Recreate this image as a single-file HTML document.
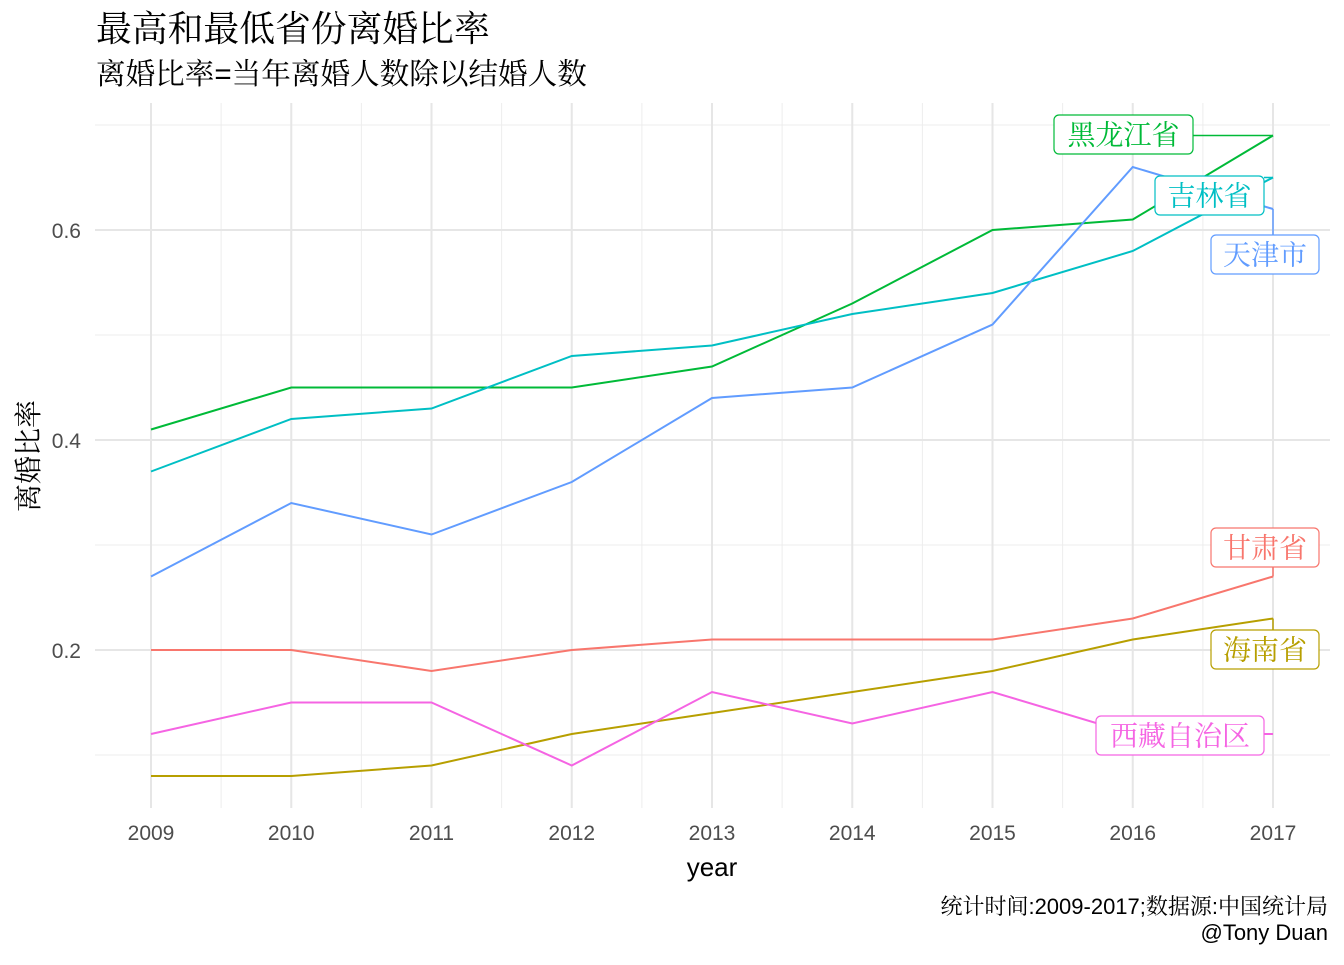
<!DOCTYPE html>
<html><head><meta charset="utf-8">
<style>
html,body{margin:0;padding:0;background:#fff;}
svg text{font-family:"Liberation Sans","Noto Sans CJK SC",sans-serif;}
.cjk{font-family:"Liberation Serif","Noto Serif CJK SC",serif !important;}
.sans{font-family:"Liberation Sans","Noto Serif CJK SC",sans-serif !important;}
</style></head>
<body>
<svg id="chart" width="1344" height="960" xmlns="http://www.w3.org/2000/svg">
<text class="cjk" x="96" y="41" font-size="35.8" fill="#000">最高和最低省份离婚比率</text>
<text class="sans" x="96" y="84" font-size="29.6" fill="#000">离婚比率=当年离婚人数除以结婚人数</text>
<g id="grid"></g>
<g id="series"></g>
<g id="labels"></g>
<g id="axes"></g>
<text class="cjk" transform="translate(38,456) rotate(-90)" text-anchor="middle" font-size="28" fill="#000">离婚比率</text>
<text x="712" y="876" text-anchor="middle" font-size="26" fill="#000">year</text>
<text class="sans" x="1328" y="914" text-anchor="end" font-size="22" fill="#000">统计时间:2009-2017;数据源:中国统计局</text>
<text x="1328" y="940" text-anchor="end" font-size="22" fill="#000">@Tony Duan</text>
</svg>
<script>
const years = [2009,2010,2011,2012,2013,2014,2015,2016,2017];
const yTicks = [0.2,0.4,0.6];
const yMinor = [0.1,0.3,0.5,0.7];
const names = ["甘肃省","海南省","黑龙江省","吉林省","天津市","西藏自治区"];
const colors = ["#F8766D","#B79F00","#00BA38","#00BFC4","#619CFF","#F564E3"];
const gansu = [0.20,0.20,0.18,0.20,0.21,0.21,0.21,0.23,0.27];
const hainan = [0.08,0.08,0.09,0.12,0.14,0.16,0.18,0.21,0.23];
const heilongjiang = [0.41,0.45,0.45,0.45,0.47,0.53,0.60,0.61,0.69];
const jilin = [0.37,0.42,0.43,0.48,0.49,0.52,0.54,0.58,0.65];
const tianjin = [0.27,0.34,0.31,0.36,0.44,0.45,0.51,0.66,0.62];
const xizang = [0.12,0.15,0.15,0.09,0.16,0.13,0.16,0.12,0.12];
const seriesVals = [gansu,hainan,heilongjiang,jilin,tianjin,xizang];

const NS="http://www.w3.org/2000/svg";
const X = y => 151 + (y-2009)*140.25;
const Y = v => 650 - (v-0.2)*1050;
function mk(tag, attrs, parent){const e=document.createElementNS(NS,tag);for(const k in attrs)e.setAttribute(k,attrs[k]);parent.appendChild(e);return e;}
const grid=document.getElementById('grid'), ser=document.getElementById('series'), lab=document.getElementById('labels'), axes=document.getElementById('axes');
const L=95,R=1330,T=103,B=808;
yMinor.forEach(v=>{const l=mk('line',{x1:L,x2:R,y1:Y(v),y2:Y(v),stroke:'#ededed','stroke-width':1},grid);

});
for(let i=0;i<years.length-1;i++){const xm=(X(years[i])+X(years[i+1]))/2;const l=mk('line',{x1:xm,x2:xm,y1:T,y2:B,stroke:'#ededed','stroke-width':1},grid);

}
yTicks.forEach(v=>{const l=mk('line',{x1:L,x2:R,y1:Y(v),y2:Y(v),stroke:'#e6e6e6','stroke-width':2},grid);


const t=mk('text',{x:81,y:Y(v)+8,'text-anchor':'end','font-size':21,fill:'#4d4d4d'},axes);t.textContent=v.toFixed(1);

});
years.forEach(yr=>{const l=mk('line',{x1:X(yr),x2:X(yr),y1:T,y2:B,stroke:'#e6e6e6','stroke-width':2},grid);


const t=mk('text',{x:X(yr),y:840,'text-anchor':'middle','font-size':21,fill:'#4d4d4d'},axes);t.textContent=yr;

});
seriesVals.forEach((vals,i)=>{const p=mk('polyline',{points:vals.map((v,j)=>X(years[j])+','+Y(v)).join(' '),fill:'none',stroke:colors[i],'stroke-width':2},ser);

});
const boxes=[[0,1211,528,108],[1,1211,630,108],[2,1054,115,139],[3,1155,176,109],[4,1211,235,108],[5,1096,716,168]];
boxes.forEach(([i,bx,by,w])=>{const h=39;const ex=X(2017),ey=Y(seriesVals[i][8]);
const cy=by+h/2;const nx=Math.max(bx,Math.min(bx+w,ex)),ny=Math.max(by,Math.min(by+h,ey));
if(Math.hypot(nx-ex,ny-ey)>6){const c=mk('line',{x1:ex,y1:ey,x2:(ex>bx+w?bx+w:nx),y2:(ey>=by&&ey<=by+h?ey:ny),stroke:colors[i],'stroke-width':1.5},lab);

}
const r=mk('rect',{x:bx,y:by,width:w,height:h,rx:5,fill:'#fff',stroke:colors[i],'stroke-width':1.2},lab);


const t=mk('text',{x:bx+w/2,y:cy+10,'text-anchor':'middle','font-size':28,fill:colors[i],class:'cjk'},lab);t.textContent=names[i];

});
</script>
</body></html>
